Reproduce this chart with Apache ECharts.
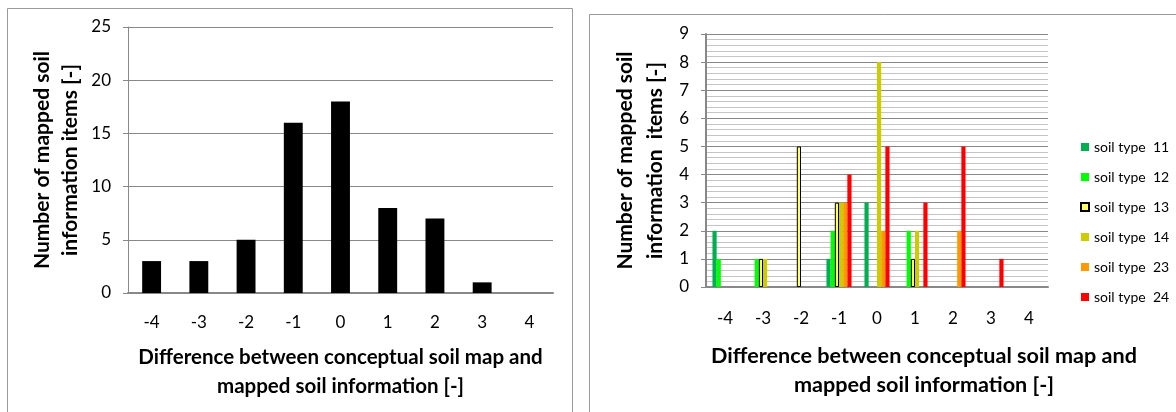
<!DOCTYPE html>
<html>
<head>
<meta charset="utf-8">
<script src="https://cdn.jsdelivr.net/npm/echarts@6/dist/echarts.min.js"></script>
<style>html,body{margin:0;padding:0;background:#fff}#c{width:1176px;height:412px}</style>
</head>
<body>
<div id="c"></div>
<script>
// ---- data ----
var categories = ['-4', '-3', '-2', '-1', '0', '1', '2', '3', '4'];
var totalItems = [3, 3, 5, 16, 18, 8, 7, 1, 0];
var soilTypeNames = ['soil type  11', 'soil type  12', 'soil type  13', 'soil type  14', 'soil type  23', 'soil type  24'];
var soil11 = [2, 0, 0, 1, 3, 0, 0, 0, 0];
var soil12 = [1, 1, 0, 2, 0, 2, 0, 0, 0];
var soil13 = [0, 1, 5, 3, 0, 1, 0, 0, 0];
var soil14 = [0, 1, 0, 3, 8, 2, 0, 0, 0];
var soil23 = [0, 0, 0, 3, 2, 0, 2, 0, 0];
var soil24 = [0, 0, 0, 4, 5, 3, 5, 1, 0];
var leftYTicks = {min: 0, max: 25, interval: 5};
var rightYTicks = {min: 0, max: 9, interval: 1};

// ---- styles ----
var FONT = 'Lato';
var soilColors = ['#00B050', '#00FF00', '#FFFF66', '#CCCC00', '#FF9900', '#FF0000'];
var soilData = [soil11, soil12, soil13, soil14, soil23, soil24];

function nz(arr) { return arr.map(function (v) { return v === 0 ? '-' : v; }); }

var chart = echarts.init(document.getElementById('c'), null, {renderer: 'canvas'});

var rightSeries = soilData.map(function (d, i) {
  var st = {color: soilColors[i]};
  if (i === 2) { st.borderColor = '#000'; st.borderWidth = 1; }
  return {
    name: soilTypeNames[i], type: 'bar', xAxisIndex: 1, yAxisIndex: 1,
    data: nz(d), barGap: '0%', barCategoryGap: '34%', itemStyle: st, z: 3
  };
});

var xTitleStyle = {fontFamily: FONT, fontWeight: 'bold', fontSize: 20.5, color: '#000'};
var yTitleStyle = {fontFamily: FONT, fontWeight: 'bold', fontSize: 21, color: '#000'};
var tickFont = {fontSize: 17, color: '#000', fontFamily: FONT};

var option = {
  animation: false,
  backgroundColor: '#fff',
  textStyle: {fontFamily: FONT},
  graphic: [
    {type: 'rect', shape: {x: 7.5, y: 8.5, width: 565, height: 430}, style: {fill: 'none', stroke: '#9a9a9a', lineWidth: 1}, z: -10},
    {type: 'rect', shape: {x: 589.5, y: 14.5, width: 620, height: 430}, style: {fill: 'none', stroke: '#9a9a9a', lineWidth: 1}, z: -10},
    {type: 'text', x: 924, y: 370.5, style: {text: 'Difference between conceptual soil map and\nmapped soil information [-]', align: 'center', verticalAlign: 'middle', lineHeight: 29, font: 'bold 21.6px ' + FONT, fill: '#000'}}
  ],
  legend: {
    data: soilTypeNames, orient: 'vertical', left: 1075, top: 134,
    itemWidth: 8, itemHeight: 8, itemGap: 14, icon: 'rect',
    textStyle: {fontFamily: FONT, fontSize: 14, color: '#000', lineHeight: 16}
  },
  grid: [
    {left: 128, right: 623, top: 27, bottom: 119},
    {left: 706, right: 128, top: 34, bottom: 125}
  ],
  xAxis: [
    {type: 'category', gridIndex: 0, data: categories,
      axisLine: {lineStyle: {color: '#888', width: 2}}, axisTick: {show: false},
      axisLabel: Object.assign({margin: 21}, tickFont),
      name: 'Difference between conceptual soil map and\nmapped soil information [-]',
      nameLocation: 'middle', nameGap: 50, nameTextStyle: Object.assign({lineHeight: 29}, xTitleStyle)},
    {type: 'category', gridIndex: 1, data: categories,
      axisLine: {lineStyle: {color: '#888', width: 2}}, axisTick: {show: false},
      axisLabel: Object.assign({margin: 23}, tickFont)}
  ],
  yAxis: [
    {type: 'value', gridIndex: 0, min: leftYTicks.min, max: leftYTicks.max, interval: leftYTicks.interval,
      axisLine: {show: true, lineStyle: {color: '#888', width: 1}},
      axisTick: {show: true, length: 5, lineStyle: {color: '#888'}},
      axisLabel: Object.assign({margin: 17}, tickFont),
      splitLine: {lineStyle: {color: '#888', width: 1}},
      name: 'Number of mapped soil\ninformation items [-]', nameLocation: 'middle', nameRotate: 90, nameGap: 44,
      nameTextStyle: Object.assign({lineHeight: 28}, yTitleStyle)},
    {type: 'value', gridIndex: 1, min: rightYTicks.min, max: rightYTicks.max, interval: rightYTicks.interval,
      axisLine: {show: true, lineStyle: {color: '#888', width: 2}},
      axisTick: {show: true, length: 5, lineStyle: {color: '#888'}},
      axisLabel: Object.assign({margin: 17}, tickFont),
      splitLine: {lineStyle: {color: '#888', width: 1}},
      minorTick: {show: false, splitNumber: 5},
      minorSplitLine: {show: true, lineStyle: {color: '#c4c4c4', width: 1}},
      name: 'Number of mapped soil\ninformation  items [-]', nameLocation: 'middle', nameRotate: 90, nameGap: 36,
      nameTextStyle: Object.assign({lineHeight: 30}, yTitleStyle)}
  ],
  series: [
    {name: 'total', type: 'bar', xAxisIndex: 0, yAxisIndex: 0, data: nz(totalItems),
      barWidth: '40%', itemStyle: {color: '#000'}, z: 3}
  ].concat(rightSeries)
};
chart.setOption(option);
</script>
</body>
</html>
